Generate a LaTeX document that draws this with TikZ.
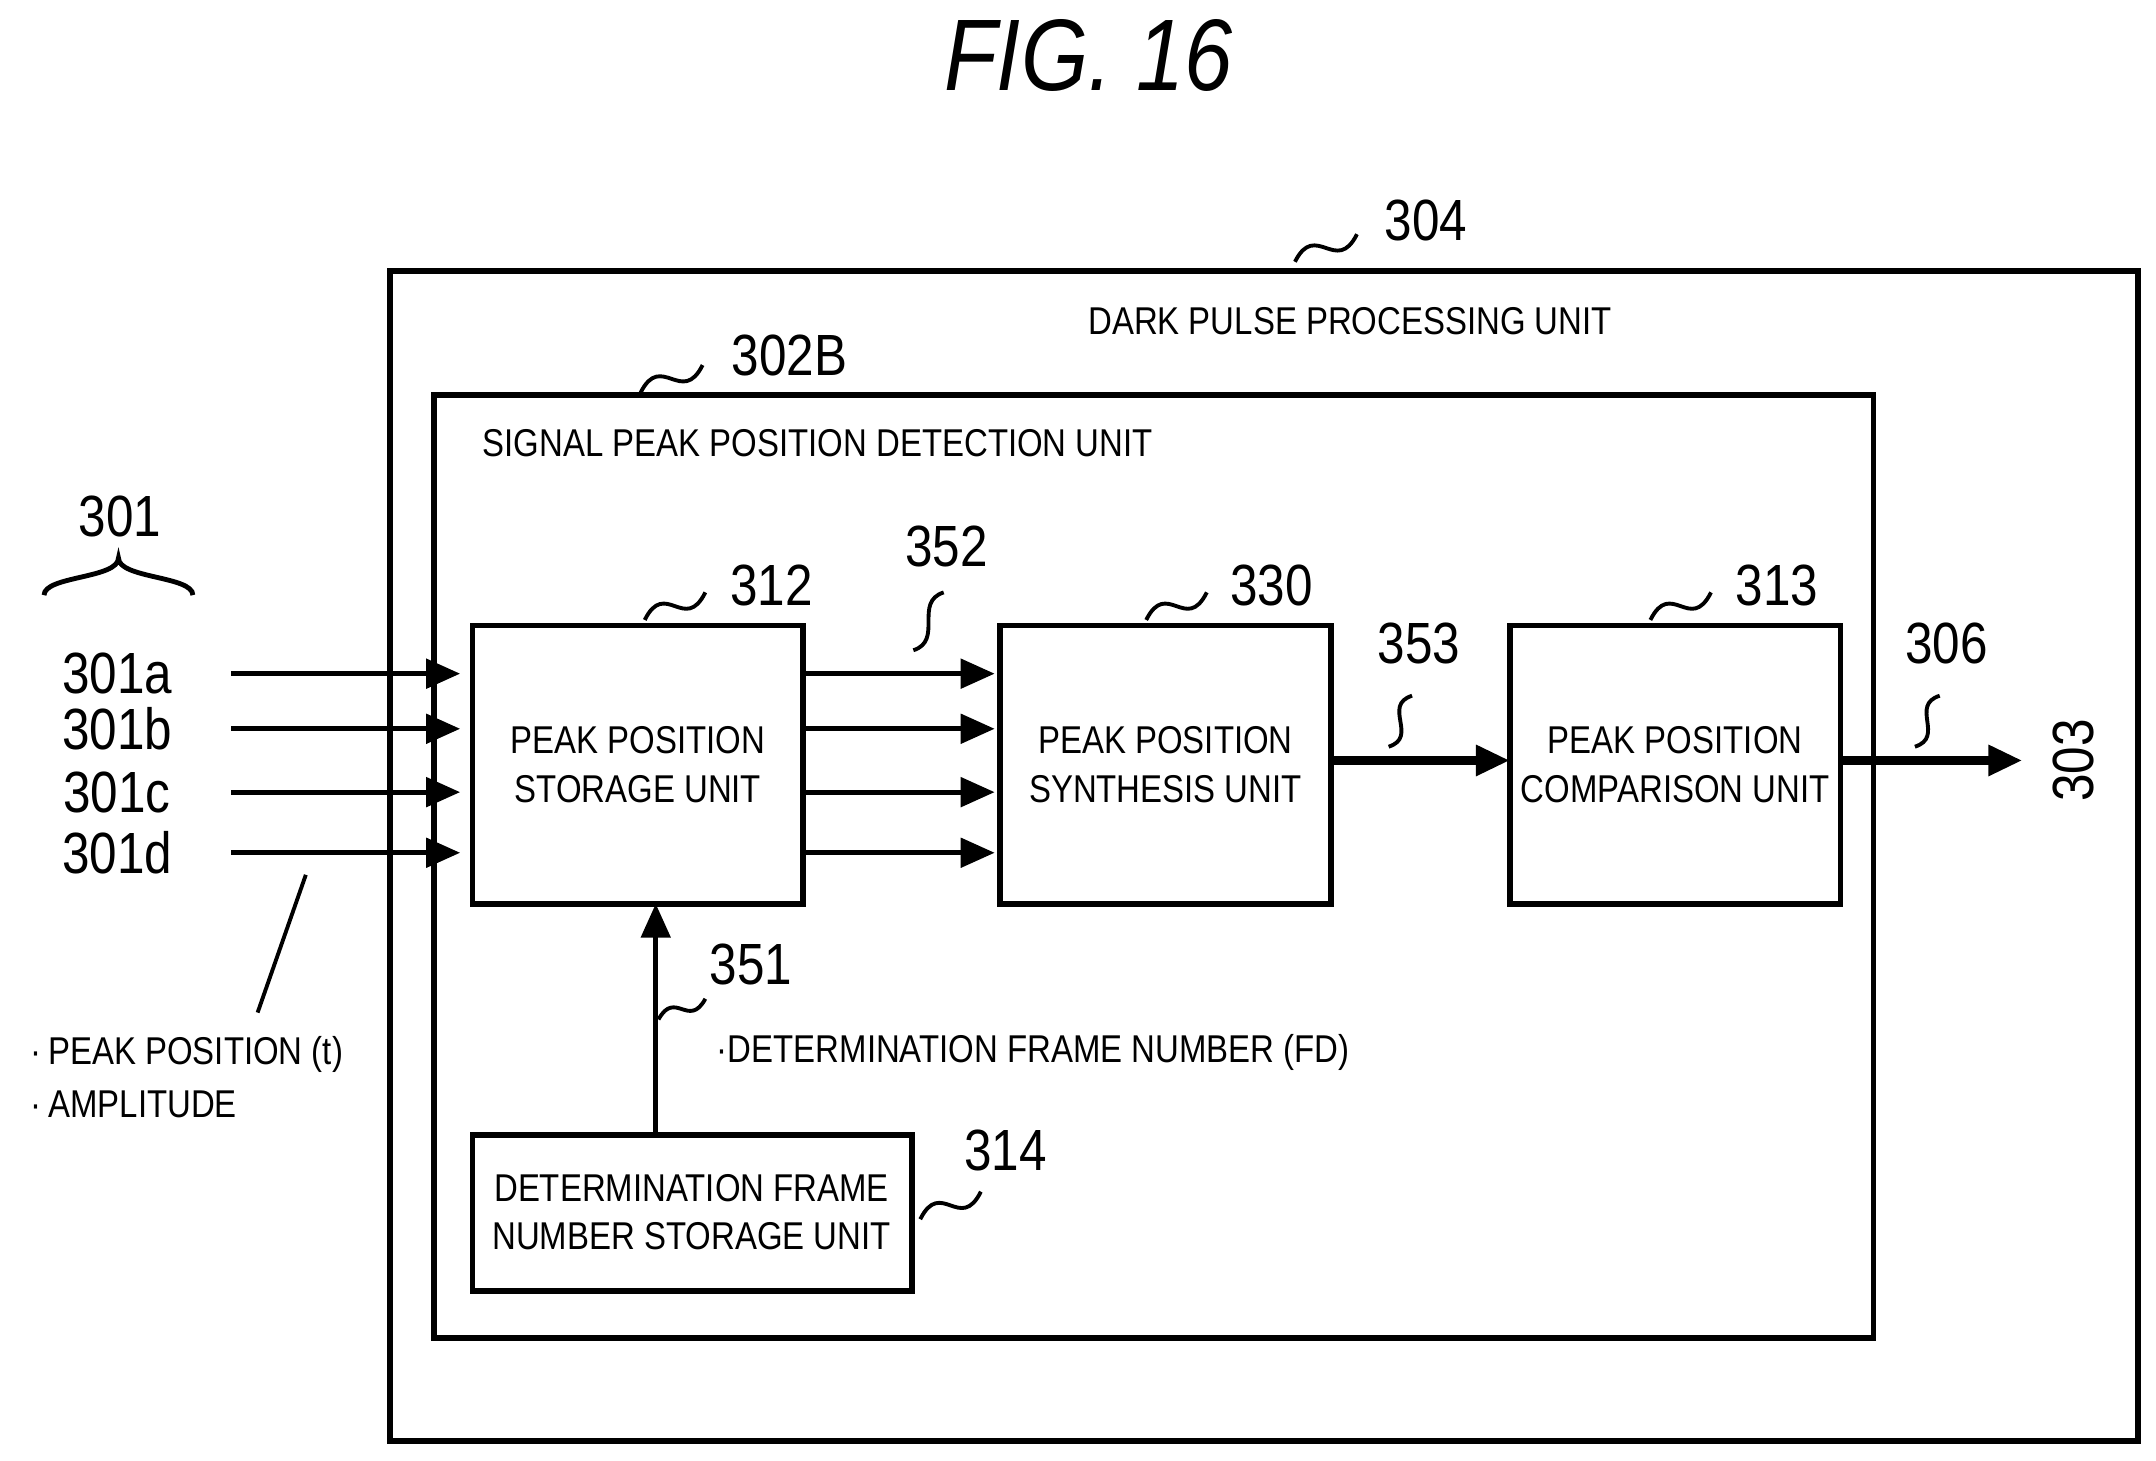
\documentclass[tikz,border=0pt]{standalone}
\usepackage{fontspec}
\setmainfont{Liberation Sans}[FakeStretch=0.85]
\usetikzlibrary{arrows.meta}
\begin{document}
\begin{tikzpicture}[x=0.01cm,y=0.01cm,
 box/.style={draw,line width=1.2pt},
 lbl/.style={font=\fontsize{8}{10}\selectfont,align=center},
 num/.style={font=\fontsize{12}{14}\selectfont},
 arr/.style={-{Triangle[length=7pt,width=6pt]},line width=1pt},
 tarr/.style={-{Triangle[length=7pt,width=6pt]},line width=2pt},
 sq/.style={line width=0.8pt}]
\useasboundingbox (0,0) rectangle (1565,-1060);
\node[font=\itshape\fontsize{21}{24}\selectfont] (title) at (790,-40) {FIG. 16};
\draw[box] (283,-197) rectangle (1552,-1046);
\node[num] (n304) at (1035,-160) {304};
\draw[sq] (940,-190) .. controls +(15,30) and +(-15,-30) .. (985,-170);
\node[lbl] (dpu) at (980,-233) {DARK PULSE PROCESSING UNIT};
\draw[box] (315,-287) rectangle (1360,-971);
\node[num] (n302) at (573,-258) {302B};
\draw[sq] (465,-285) .. controls +(15,30) and +(-15,-30) .. (510,-265);
\node[lbl,anchor=west] (spd) at (338,-322) {SIGNAL PEAK POSITION DETECTION UNIT};
\node[num] (n301) at (87,-375) {301};
\draw[line width=1pt] (32,-432) .. controls (32,-418) and (86,-420) .. (86,-405) .. controls (86,-420) and (140,-418) .. (140,-432);
\foreach \n/\y/\t in {a/489/301a,b/529/301b,c/575/301c,d/619/301d}{
  \node[num] (in\n) at (85,-\y) {\t};
  \coordinate (s\n) at (168,-\y);
  \coordinate (e\n) at (334,-\y);
  \draw[arr] (s\n) -- (e\n);
  \coordinate (o\n) at (583,-\y);
  \coordinate (p\n) at (722,-\y);
  \draw[arr] (o\n) -- (p\n);
}
\draw[box] (343,-454) rectangle (583,-656);
\node[lbl] (t312) at (463,-555) {PEAK POSITION\\STORAGE UNIT};
\node[num] (n312) at (560,-425) {312};
\draw[sq] (468,-450) .. controls +(15,30) and +(-15,-30) .. (512,-430);
\node[num] (n352) at (687,-397) {352};
\draw[sq] (663,-472) .. controls +(22,7) and +(-22,-7) .. (685,-430);
\draw[box] (726,-454) rectangle (966,-656);
\node[lbl] (t330) at (846,-555) {PEAK POSITION\\SYNTHESIS UNIT};
\node[num] (n330) at (923,-425) {330};
\draw[sq] (832,-450) .. controls +(15,30) and +(-15,-30) .. (876,-430);
\node[num] (n353) at (1030,-467) {353};
\draw[sq] (1008,-542) .. controls +(22,7) and +(-22,-7) .. (1025,-505);
\coordinate (a1) at (966,-552); \coordinate (a2) at (1096,-552);
\draw[tarr] (a1) -- (a2);
\draw[box] (1096,-454) rectangle (1336,-656);
\node[lbl] (t313) at (1216,-555) {PEAK POSITION\\COMPARISON UNIT};
\node[num] (n313) at (1290,-425) {313};
\draw[sq] (1198,-450) .. controls +(15,30) and +(-15,-30) .. (1242,-430);
\node[num] (n306) at (1413,-467) {306};
\draw[sq] (1390,-542) .. controls +(22,7) and +(-22,-7) .. (1408,-505);
\coordinate (c1) at (1336,-552); \coordinate (c2) at (1468,-552);
\draw[tarr] (c1) -- (c2);
\node[num,rotate=90] (n303) at (1505,-552) {303};
\coordinate (l1) at (222,-635); \coordinate (l2) at (187,-735);
\draw[line width=0.8pt] (l1) -- (l2);
\node[lbl,anchor=west,align=left] (pp) at (10,-782) {·\,PEAK POSITION (t)\\[1pt]·\,AMPLITUDE};
\draw[box] (343,-824) rectangle (662,-937);
\node[lbl] (t314) at (502,-880) {DETERMINATION FRAME\\NUMBER STORAGE UNIT};
\node[num] (n314) at (730,-835) {314};
\draw[sq] (668,-885) .. controls +(15,30) and +(-15,-30) .. (712,-865);
\coordinate (u1) at (476,-824); \coordinate (u2) at (476,-656);
\draw[arr] (u1) -- (u2);
\node[num] (n351) at (545,-700) {351};
\draw[sq] (478,-740) .. controls +(12,22) and +(-12,-22) .. (512,-725);
\node[lbl,anchor=west] (fd) at (508,-764) {·DETERMINATION FRAME NUMBER (FD)};
\end{tikzpicture}
\end{document}
